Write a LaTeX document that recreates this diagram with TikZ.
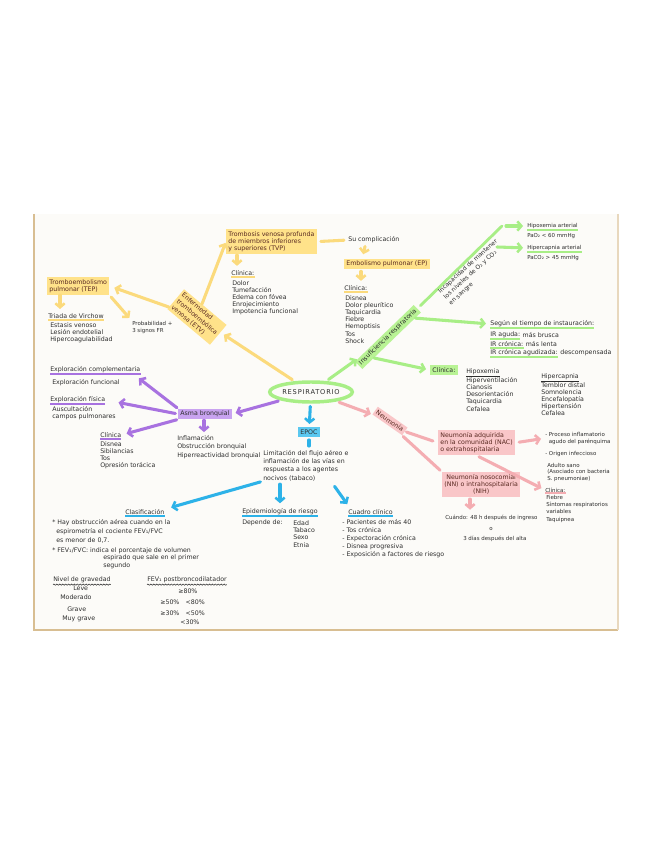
\documentclass[tikz,border=0pt]{standalone}
\usepackage{fontspec}
\newfontfamily\hw{DejaVu Sans}
\usetikzlibrary{arrows.meta,shapes.geometric,calc,decorations.pathmorphing}
\definecolor{ink}{HTML}{2E2E2E}
\definecolor{brn}{HTML}{5A2A22}
\definecolor{paper}{HTML}{FCFBF8}
\definecolor{edge}{HTML}{D8BE92}
\definecolor{ylwF}{HTML}{FFE28A}
\definecolor{ylwL}{HTML}{FBDA7C}
\definecolor{grnF}{HTML}{B9F395}
\definecolor{grnL}{HTML}{A8EE86}
\definecolor{purF}{HTML}{C9A3F0}
\definecolor{purL}{HTML}{A872E0}
\definecolor{pnkF}{HTML}{F9C6C8}
\definecolor{pnkL}{HTML}{F4ADB2}
\definecolor{bluF}{HTML}{5BC8F0}
\definecolor{bluL}{HTML}{2DB2E8}
\newcommand\ulnode[2]{\draw[#1] ([yshift=-0.7pt]#2.south west) -- ([yshift=-0.7pt]#2.south east);}
\begin{document}
\begin{tikzpicture}[x=0.75pt,y=-0.75pt,
 every node/.style={font=\hw\fontsize{4.7}{5.4}\selectfont, text=ink, inner sep=0pt, align=left},
 sm/.style={font=\hw\fontsize{4.1}{5}\selectfont},
 hlY/.style={fill=ylwF, text=brn, inner sep=1.6pt},
 hlG/.style={fill=grnF, text=ink, inner sep=1.6pt},
 hlP/.style={fill=purF, text=ink, inner sep=1.6pt},
 hlK/.style={fill=pnkF, text=brn, inner sep=1.6pt},
 hlB/.style={fill=bluF, text=ink, inner sep=2pt},
 arw/.style={line width=2.3pt, line cap=round, shorten >=1pt, -{Straight Barb[length=3pt,width=7pt,line width=1.9pt]}},
 arY/.style={arw, draw=ylwL}, arG/.style={arw, draw=grnL}, arP/.style={arw, draw=purL},
 arK/.style={arw, draw=pnkL}, arB/.style={arw, draw=bluL},
 lnY/.style={line width=2.3pt, line cap=round, draw=ylwL},
 lnG/.style={line width=2.1pt, line cap=round, draw=grnL},
 lnK/.style={line width=2.3pt, line cap=round, draw=pnkL},
 lnB/.style={line width=2.3pt, line cap=round, draw=bluL},
 ulY/.style={line width=1.6pt, draw=ylwL}, ulG/.style={line width=1.6pt, draw=grnL},
 ulP/.style={line width=1.6pt, draw=purL}, ulK/.style={line width=1.6pt, draw=pnkL},
 ulB/.style={line width=1.6pt, draw=bluL}, ulI/.style={line width=0.4pt, draw=ink},
 wav/.style={decorate, decoration={snake, amplitude=0.45pt, segment length=2.2pt}, line width=0.4pt, draw=ink}
]
\path[use as bounding box] (0,0) rectangle (655,848);
\fill[white] (0,0) rectangle (655,848);
\fill[paper] (34,214) rectangle (618,630);
\draw[edge, line width=1.3pt] (34,214) -- (34,630) -- (618,630);
\draw[edge!60, line width=0.8pt] (618,214) -- (618,630);

% ---------- centre ----------
\node[draw=grnL, line width=2.6pt, ellipse, minimum width=62pt, minimum height=15pt,
      font=\hw\addfontfeatures{LetterSpace=12}\fontsize{5}{6}\selectfont] (c) at (311,392) {RESPIRATORIO};

% ---------- yellow ----------
\node[hlY, anchor=north west] (tvp) at (226,229) {Trombosis venosa profunda\\de miembros inferiores\\y superiores (TVP)};
\node[anchor=west] (sucompl) at (348,240) {Su complicación};
\node[hlY, anchor=west] (ep) at (344,264) {Embolismo pulmonar (EP)};
\node[anchor=west] (clinEP) at (344,288) {Clínica:};
\node[anchor=north west] (lEP) at (345,295) {Disnea\\Dolor pleurítico\\Taquicardia\\Fiebre\\Hemoptisis\\Tos\\Shock};
\node[anchor=west] (clinTVP) at (231,273) {Clínica:};
\node[anchor=north west] (lTVP) at (232,280) {Dolor\\Tumefacción\\Edema con fóvea\\Enrojecimiento\\Impotencia funcional};
\node[hlY, rotate=-40, font=\hw\fontsize{4.7}{6}\selectfont] (etv) at (197,317) {Enfermedad\\tromboembólica\\venosa (ETV)};
\node[hlY, anchor=north west] (tep) at (47,277) {Tromboembolismo\\pulmonar (TEP)};
\node[anchor=west] (vir) at (48,316) {Triada de Virchow};
\node[anchor=north west] (lvir) at (50,322) {Estasis venoso\\Lesión endotelial\\Hipercoagulabilidad};
\node[sm, anchor=north west] (prob) at (132,321) {Probabilidad +\\3 signos FR};
\ulnode{ulY}{vir}
\ulnode{ulY}{clinTVP}
\ulnode{ulY}{clinEP}
\draw[arY, shorten <=2pt, shorten >=3pt] (c) -- (etv);
\draw[arY] (etv) -- (tvp.west);
\draw[arY, shorten >=4pt] (etv) -- (tep.east);
\draw[arY] ($(tep.south west)+(13,0)$) -- ($(vir.north west)+(12,-3)$);
\draw[arY, shorten <=2pt, shorten >=3pt] (tep.south east) -- (prob.north west);
\draw[arY] ($(tvp.south west)+(11,1)$) -- ($(clinTVP.north west)+(6,-3)$);
\draw[lnY, shorten <=3pt, shorten >=3pt] (tvp.east) -- (sucompl.west);
\draw[arY] ($(sucompl.south west)+(17,3)$) -- ($(ep.north west)+(19,-3)$);
\draw[arY] ($(ep.south west)+(17,2)$) -- ($(clinEP.north west)+(17,-3)$);

% ---------- green ----------
\node[hlG, rotate=44] (insuf) at (388,337) {Insuficiencia respiratoria};
\coordinate (gtop) at (502,226);
\coordinate (gmid) at (497,247);
\draw[arG, shorten <=2pt] (c) -- (insuf);
\draw[lnG, shorten <=3pt] (insuf.east) -- (gtop);
\node[rotate=42, anchor=north west, font=\hw\fontsize{4.5}{6}\selectfont] (incap) at (437,290) {Incapacidad de mantener\\los niveles de O₂ y CO₂\\en sangre};
\node[sm, anchor=west] (hipoxH) at (527,226) {Hipoxemia arterial};
\node[sm, anchor=west] (hipoxV) at (527,236) {PaO₂ < 60 mmHg};
\node[sm, anchor=west] (hiperH) at (527,248) {Hipercapnia arterial};
\node[sm, anchor=west] (hiperV) at (527,258) {PaCO₂ > 45 mmHg};
\ulnode{ulG}{hipoxH}
\ulnode{ulG}{hiperH}
\draw[arG, shorten <=3pt, shorten >=3pt] (gtop) -- (hipoxH.west);
\draw[arG, shorten >=3pt] (gmid) -- (hiperH.west);
\node[anchor=west] (segun) at (490,324) {Según el tiempo de instauración:};
\ulnode{ulG}{segun}
\node[anchor=west] (ir1) at (490,335) {IR aguda:};
\node[anchor=west] (ir1b) at (ir1.east) {\ más brusca};
\node[anchor=west] (ir2) at (490,344) {IR crónica:};
\node[anchor=west] (ir2b) at (ir2.east) {\ más lenta};
\node[anchor=west] (ir3) at (490,353) {IR crónica agudizada:};
\node[anchor=west] (ir3b) at (ir3.east) {\ descompensada};
\ulnode{ulG}{ir1}
\ulnode{ulG}{ir2}
\ulnode{ulG}{ir3}
\draw[arG, shorten >=3pt] ($(insuf.south)!0.8!(insuf.south east)$) -- (segun.west);
\node[hlG, anchor=west] (clinIR) at (430,370) {Clínica:};
\draw[arG, shorten >=3pt] ($(insuf.south)!0.6!(insuf.south west)$) -- (clinIR.west);
\node[anchor=west] (hxH) at (466,372) {Hipoxemia};
\node[anchor=north west] (hxL) at (466,377) {Hiperventilación\\Cianosis\\Desorientación\\Taquicardia\\Cefalea};
\node[anchor=west] (hcH) at (541,377) {Hipercapnia};
\node[anchor=north west] (hcL) at (541,382) {Temblor distal\\Somnolencia\\Encefalopatía\\Hipertensión\\Cefalea};
\ulnode{ulI}{hxH}
\ulnode{ulI}{hcH}

% ---------- pink ----------
\node[hlK, rotate=-35] (neum) at (390,421) {Neumonía};
\draw[arK, shorten <=2pt] (c) -- (neum);
\node[hlK, anchor=north west] (nac) at (438,430) {Neumonía adquirida\\en la comunidad (NAC)\\o extrahospitalaria};
\node[hlK, anchor=north west, align=center] (nih) at (442,472) {Neumonía nosocomial\\(NN) o intrahospitalaria\\(NIH)};
\draw[lnK, shorten <=1pt, shorten >=4pt] (neum.east) -- (nac.west);
\draw[lnK, shorten <=1pt, shorten >=2pt] (neum.south east) -- (nih.north west);
\node[sm, anchor=north west] (proc) at (545,432) {- Proceso inflamatorio\\\ \ agudo del parénquima};
\node[sm, anchor=west] (orig) at (545,454) {- Origen infeccioso};
\node[sm, anchor=west] (adulto) at (547,465) {Adulto sano};
\node[sm, anchor=north west] (asoc) at (547,469) {(Asociado con bacteria\\S. pneumoniae)};
\node[sm, anchor=west] (clinN) at (545,490) {Clínica:};
\ulnode{ulK}{clinN}
\node[sm, anchor=north west, font=\hw\fontsize{4.1}{5.4}\selectfont] (lN) at (546,495) {Fiebre\\Síntomas respiratorios\\variables\\Taquipnea};
\draw[arK, shorten <=3pt, shorten >=3pt] (nac.east) -- (proc.west);
\draw[arK, shorten <=2pt, shorten >=3pt] (nac.south) -- (clinN.west);
\draw[arK] ($(nih.south west)+(28,2)$) -- ($(nih.south west)+(28,14)$);
\node[sm, anchor=west] (cuando) at (445,518) {Cuándo: 48 h después de ingreso};
\node[sm, anchor=west] (oo) at (489,529) {o};
\node[sm, anchor=west] (tres) at (463,539) {3 días después del alta};

% ---------- purple ----------
\node[hlP, anchor=west] (asma) at (178,414) {Asma bronquial};
\draw[arP, shorten <=2pt, shorten >=3pt] (c) -- (asma.east);
\node[anchor=west] (expC) at (50,370) {Exploración complementaria};
\node[anchor=west] (expCf) at (52,383) {Exploración funcional};
\node[anchor=west] (expF) at (50,400) {Exploración física};
\node[anchor=north west] (expFa) at (52,406) {Auscultación\\campos pulmonares};
\node[anchor=west] (clinA) at (100,435) {Clínica};
\node[anchor=north west] (clinAl) at (100,441) {Disnea\\Sibilancias\\Tos\\Opresión torácica};
\node[anchor=north west, font=\hw\fontsize{4.7}{6.3}\selectfont] (infl) at (177,435) {Inflamación\\Obstrucción bronquial\\Hiperreactividad bronquial};
\ulnode{ulP}{expC}
\ulnode{ulP}{expF}
\ulnode{ulP}{clinA}
\draw[arP, shorten <=1pt, shorten >=6pt] (asma.north west) -- ($(expC.south east)+(-8,0)$);
\draw[arP, shorten <=2pt, shorten >=10pt] (asma.west) -- (expF.east);
\draw[arP, shorten <=1pt, shorten >=4pt] (asma.south west) -- (clinA.east);
\draw[arP] ($(asma.south west)+(26,1)$) -- ($(asma.south west)+(26,14)$);

% ---------- blue ----------
\node[hlB] (epoc) at (309,432) {EPOC};
\draw[arB, shorten <=2pt, shorten >=2pt] (c) -- (epoc);
\node[anchor=north west, font=\hw\fontsize{4.7}{6.2}\selectfont] (def) at (263,450) {Limitación del flujo aéreo e\\inflamación de las vías en\\respuesta a los agentes\\nocivos (tabaco)};
\draw[lnB, shorten <=2pt, shorten >=3pt] (epoc.south) -- (def.north -| epoc.south);
\node[anchor=west] (clasif) at (125,512) {Clasificación};
\node[anchor=west] (epid) at (242,512) {Epidemiología de riesgo};
\node[anchor=west] (cuadro) at (348,512) {Cuadro clínico};
\ulnode{ulB}{clasif}
\ulnode{ulB}{epid}
\ulnode{ulB}{cuadro}
\draw[arB, shorten <=2pt, shorten >=5pt] (def.south west) -- (clasif.north east);
\draw[arB] ($(def.south west)+(17,3)$) -- ($(epid.north west)+(38,-4)$);
\draw[arB, shorten <=2pt] ($(def.south west)+(70,3)$) -- ($(cuadro.north west)+(0,-4)$);
\node[anchor=west] (depende) at (242,523) {Depende de:};
\node[anchor=north west, font=\hw\fontsize{4.7}{5.6}\selectfont] (epidL) at (293,520) {Edad\\Tabaco\\Sexo\\Etnia};
\node[anchor=north west, font=\hw\fontsize{4.7}{6.1}\selectfont] (cuadroL) at (342,519) {- Pacientes de más 40\\- Tos crónica\\- Expectoración crónica\\- Disnea progresiva\\- Exposición a factores de riesgo};
\node[anchor=north west, font=\hw\fontsize{4.7}{6.7}\selectfont] (cl1) at (52,519) {* Hay obstrucción aérea cuando en la\\\ \ espirometría el cociente FEV₁/FVC\\\ \ es menor de 0,7.};
\node[anchor=west] (cl2) at (52,551) {* FEV₁/FVC: indica el porcentaje de volumen};
\node[anchor=north west, font=\hw\fontsize{4.7}{6.7}\selectfont] (cl2b) at (103,554) {espirado que sale en el primer\\segundo};
\node[anchor=west] (niv) at (53,580) {Nivel de gravedad};
\node[anchor=west] (fev) at (147,580) {FEV₁ postbroncodilatador};
\draw[wav] ([yshift=-1pt]niv.south west) -- ([yshift=-1pt]niv.south east);
\draw[wav] ([yshift=-1pt]fev.south west) -- ([yshift=-1pt]fev.south east);
\node[anchor=west] (leve) at (73,588) {Leve};
\node[anchor=west] (mod) at (60,597) {Moderado};
\node[anchor=west] (grave) at (67,609) {Grave};
\node[anchor=west] (mgrave) at (62,619) {Muy grave};
\node[anchor=west] (v1) at (178,591) {≥80\%};
\node[anchor=west] (v2) at (160,602) {≥50\%\quad<80\%};
\node[anchor=west] (v3) at (160,613) {≥30\%\quad<50\%};
\node[anchor=west] (v4) at (180,622) {<30\%};
\end{tikzpicture}
\end{document}
